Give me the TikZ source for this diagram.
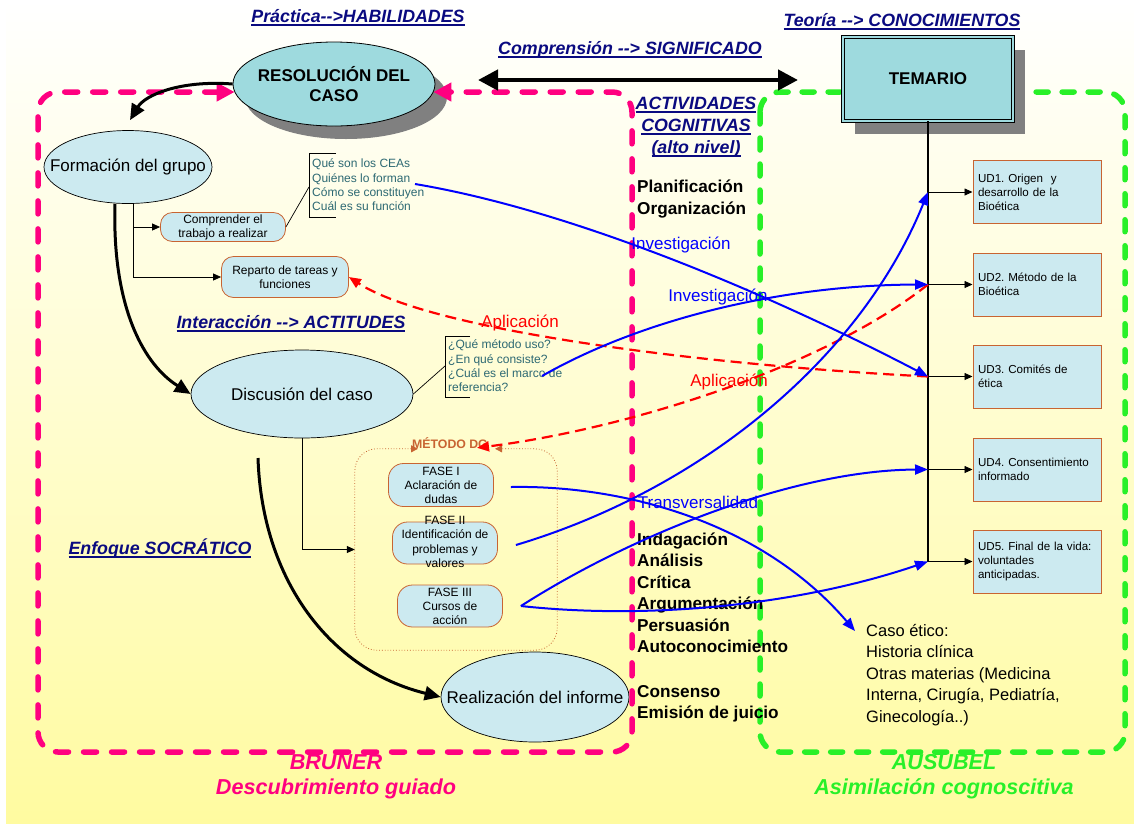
\documentclass[tikz,border=0pt]{standalone}
\usepackage{fontspec}
\setmainfont{Liberation Sans}
\usetikzlibrary{shapes.geometric, arrows.meta, calc, shadows}
\definecolor{mynavy}{RGB}{10,10,128}
\definecolor{mypink}{RGB}{255,0,128}
\definecolor{mygreen}{RGB}{40,240,40}
\definecolor{myteal}{RGB}{158,218,222}
\definecolor{mylight}{RGB}{204,234,240}
\definecolor{myorange}{RGB}{200,100,50}
\definecolor{mynote}{RGB}{45,105,115}
\definecolor{myblue}{RGB}{0,0,255}
\definecolor{myred}{RGB}{255,0,0}
\definecolor{myshadow}{RGB}{128,128,128}
\definecolor{bgyellow}{RGB}{255,251,160}
\newcommand{\fsz}[2]{\fontsize{#1}{#2}\selectfont}
\newsavebox{\tlbox}
\newcommand{\tline}[1]{\sbox{\tlbox}{#1}\rlap{\rule[-3.5pt]{\wd\tlbox}{1.8pt}}\usebox{\tlbox}}
\frenchspacing
\tikzset{
  heading/.style={font=\bfseries\itshape\fsz{17.8}{22}, text=mynavy, align=center, inner sep=1pt},
  bottomlbl/.style={font=\bfseries\itshape\fsz{21.6}{25}, align=center, inner sep=1pt},
  bigoval/.style={ellipse, draw, fill=myteal, line width=0.8pt, align=center,
    font=\bfseries\fsz{17}{20}, inner xsep=-10pt, inner ysep=0pt,
    drop shadow={shadow xshift=12pt, shadow yshift=-13pt, fill=myshadow, opacity=1}},
  oval/.style={ellipse, draw, fill=mylight, line width=0.7pt, font=\fsz{17}{20},
    inner xsep=-25pt, inner ysep=0pt},
  temabox/.style={rectangle, draw, double=myteal, double distance=2.5pt, fill=myteal,
    line width=0.7pt, minimum width=170, minimum height=84, font=\bfseries\fsz{17}{20},
    drop shadow={shadow xshift=12pt, shadow yshift=-13pt, fill=myshadow, opacity=1}},
  capsule/.style={rectangle, rounded corners=12pt, draw=myorange, fill=mylight,
    line width=0.8pt, align=center, font=\fsz{12}{14}, inner sep=0.5pt},
  udbox/.style={rectangle, draw=myorange, fill=mylight, line width=1pt,
    minimum width=128, minimum height=63, text width=118, align=left,
    font=\fsz{11.6}{14}, inner sep=0pt},
  note/.style={anchor=west, align=left, text=mynote, font=\fsz{12}{14.3}, inner sep=0pt},
  colbold/.style={anchor=west, align=left, font=\bfseries\fsz{17.2}{21.5}, inner sep=0pt},
  casetext/.style={anchor=west, align=left, font=\fsz{16.5}{21.5}, inner sep=0pt},
  bluelbl/.style={text=myblue, font=\fsz{17}{20}, inner sep=0pt},
  redlbl/.style={text=myred, font=\fsz{17}{20}, inner sep=0pt},
  pinkframe/.style={draw=mypink, line width=5.5pt, dash pattern=on 13pt off 15pt,
    line cap=round, rounded corners=20pt},
  greenframe/.style={draw=mygreen, line width=5.5pt, dash pattern=on 12pt off 14pt,
    line cap=round, rounded corners=20pt},
  metframe/.style={draw=myorange, line width=0.8pt, dotted, rounded corners=22pt},
  bigarrow/.style={-{Triangle[length=16pt,width=14pt]}, line width=3pt},
  thinarrow/.style={-{Triangle[length=8pt,width=7pt]}, line width=0.8pt},
  bluearrow/.style={-{Triangle[length=13pt,width=10pt]}, draw=myblue, line width=2pt},
  reddash/.style={-{Triangle[length=12pt,width=10pt]}, draw=myred, line width=2.2pt,
    dash pattern=on 11pt off 6pt}
}

\begin{document}
\begin{tikzpicture}[x=1pt, y=-1pt]
  \useasboundingbox (0,0) rectangle (1134,823);
  % Background
  \fill[white] (0,0) rectangle (1134,823);
  \shade[top color=white, bottom color=bgyellow] (6,0) rectangle (1134,823);
  % Ausubel frame
  \draw[greenframe] (760,92) rectangle (1125,752);
  % Headings
  \node[heading] (prac) at (358,18) {\tline{Práctica-{}->HABILIDADES}};
  \node[heading] (teor) at (902,22) {\tline{Teoría -{}-> CONOCIMIENTOS}};
  \node[heading] (signif) at (630,50) {\tline{Comprensión -{}-> SIGNIFICADO}};
  \node[heading] (activ) at (696,127) {\tline{ACTIVIDADES}\\\tline{COGNITIVAS}\\\tline{(alto nivel)}};
  \node[heading] (inter) at (291,324) {\tline{Interacción -{}-> ACTITUDES}};
  \node[heading] (socr) at (160,548) {\tline{Enfoque SOCRÁTICO}};
  % Main nodes
  \node[bigoval, minimum width=202, minimum height=84] (res) at (334,84) {RESOLUCIÓN DEL\\CASO};
  \node[temabox] (tem) at (928,79) {TEMARIO};
  \node[oval, minimum width=168, minimum height=73] (grupo) at (128,167) {Formación del grupo};
  \node[oval, minimum width=222, minimum height=88] (disc) at (302,394) {Discusión del caso};
  \node[oval, minimum width=188, minimum height=90] (inf) at (535,697) {Realización del informe};
  \node[capsule, minimum width=125, minimum height=29] (compr) at (223,227) {Comprender el\\trabajo a realizar};
  \node[capsule, minimum width=127, minimum height=41] (rep) at (285,277) {Reparto de tareas y\\funciones};
  % Notes
  \node[note] (cea) at (312,185) {Qué son los CEAs\\Quiénes lo forman\\Cómo se constituyen\\Cuál es su función};
  \node[note] (quest) at (448,366) {¿Qué método uso?\\¿En qué consiste?\\¿Cuál es el marco de\\referencia?};
  % Metodo DG
  \node[minimum width=202, minimum height=201] (met) at (456,549.5) {};
  \draw[metframe, {Triangle[length=7pt,width=7pt]}-{Triangle[length=7pt,width=7pt]}]
    ($(met.north)+(-38,0)$) -- (met.north west) -- (met.south west) -- (met.south east)
    -- (met.north east) -- ($(met.north)+(39,0)$);
  \node[text=myorange, font=\bfseries\fsz{12.3}{14}, inner sep=0pt] (metlbl) at (450,443) {MÉTODO DG};
  \node[capsule, minimum width=105, minimum height=43, rounded corners=15pt] (f1) at (441,485) {FASE I\\Aclaración de\\dudas};
  \node[capsule, minimum width=105, minimum height=42, rounded corners=15pt] (f2) at (445,543) {};
  \node[font=\fsz{12}{14.5}, align=center, inner sep=0pt] (f2t) at (445,542) {FASE II\\Identificación de\\problemas y\\valores};
  \node[capsule, minimum width=105, minimum height=42, rounded corners=15pt] (f3) at (450,606) {FASE III\\Cursos de\\acción};
  % Temario units
  \node[udbox] (ud1) at (1037,192) {UD1. Origen\ \ y\\desarrollo de la\\Bioética};
  \node[udbox] (ud2) at (1037,284.5) {UD2. Método de la\\Bioética};
  \node[udbox] (ud3) at (1037,376.5) {UD3. Comités de\\ética};
  \node[udbox] (ud4) at (1037,469.5) {UD4. Consentimiento\\informado};
  \node[udbox] (ud5) at (1037,561.5) {UD5. Final de la vida:\\voluntades\\anticipadas.};
  % Cognitive activities
  \node[colbold] (plan) at (637,199) {Planificación\\Organización};
  \node[colbold] (indag) at (637,593) {Indagación\\Análisis\\Crítica\\Argumentación\\Persuasión\\Autoconocimiento};
  \node[colbold] (cons) at (637,704) {Consenso\\Emisión de juicio};
  \node[casetext] (caso) at (866,675) {Caso ético:\\Historia clínica\\Otras materias (Medicina\\Interna, Cirugía, Pediatría,\\Ginecología..)};
  % Bottom labels
  \node[bottomlbl, text=mypink] (bruner) at (336,777) {BRUNER\\Descubrimiento guiado};
  \node[bottomlbl, text=mygreen] (ausubel) at (944,777) {AUSUBEL\\Asimilación cognoscitiva};
  % Bruner frame
  \draw[pinkframe, {Triangle[length=18pt,width=18pt]}-{Triangle[length=18pt,width=18pt]}]
    ($(res.west)+(2,8)$) -- (38,92) -- (38,752) -- (632,752) -- (632,92) -- ($(res.east)+(-2,8)$);
  % Comprension arrow
  \coordinate (cl) at (478,80);
  \coordinate (cr) at (798,80);
  \draw[line width=4.5pt, {Triangle[length=20pt,width=20pt]}-{Triangle[length=20pt,width=20pt]}] (cl) -- (cr);
  % Temario stem
  \coordinate (j1) at (tem.south |- ud1.west);
  \coordinate (j2) at (tem.south |- ud2.west);
  \coordinate (j3) at (tem.south |- ud3.west);
  \coordinate (j4) at (tem.south |- ud4.west);
  \coordinate (j5) at (tem.south |- ud5.west);
  \draw[line width=1.2pt] (tem.south) -- (j5);
  \draw[thinarrow] (j1) -- (ud1.west);
  \draw[thinarrow] (j2) -- (ud2.west);
  \draw[thinarrow] (j3) -- (ud3.west);
  \draw[thinarrow] (j4) -- (ud4.west);
  \draw[thinarrow] (j5) -- (ud5.west);
  % Left flow
  \draw[bigarrow] (res.west) .. controls (180,80) and (145,95) .. ($(grupo.north)+(2,-10)$);
  \draw[bigarrow] ($(grupo.south)+(-13,0)$) .. controls (112,300) and (140,362) .. (disc.west);
  \coordinate (arcs) at (258,458);
  \draw[bigarrow] (arcs) .. controls (262,580) and (330,670) .. (inf.west);
  \coordinate (gs) at ($(grupo.south)+(5,0)$);
  \draw[thinarrow] (gs) |- (compr.west);
  \draw[thinarrow] (gs) |- (rep.west);
  \draw[thinarrow] (disc.south) |- (met.west);
  % Brackets
  \coordinate (ceab) at ($(cea.west)+(-3,0)$);
  \draw[line width=0.8pt] ($(ceab)+(27,-32)$) -- ($(ceab)+(0,-32)$) -- ($(ceab)+(0,32)$) -- ($(ceab)+(27,32)$);
  \draw[line width=0.7pt] (compr.east) -- ($(ceab)+(0,2)$);
  \coordinate (questb) at ($(quest.west)+(-3,0)$);
  \draw[line width=0.8pt] ($(questb)+(25,-30)$) -- ($(questb)+(0,-30)$) -- ($(questb)+(0,31)$) -- ($(questb)+(25,31)$);
  \draw[line width=0.7pt] (disc.east) -- (questb);
  % Applications
  \coordinate (mett) at ($(met.north)+(21,-1)$);
  \draw[reddash] (j3) .. controls (700,365) and (430,330) .. (rep.east);
  \draw[reddash] (j2) .. controls (820,370) and (620,430) .. (mett);
  \node[redlbl] (apl1) at (520,323) {Aplicación};
  \node[redlbl] (apl2) at (729,382) {Aplicación};
  % Research links
  \coordinate (b1s) at (415,184);
  \coordinate (b2s) at (542,376);
  \coordinate (b3s) at ($(f1.east)+(17,2)$);
  \coordinate (b4s) at ($(f2.east)+(18,2)$);
  \coordinate (b5s) at ($(f3.east)+(18,0)$);
  \coordinate (casot) at ($(caso.north west)+(-11,7)$);
  \draw[bluearrow] (b1s) .. controls (600,215) and (820,320) .. (j3);
  \draw[bluearrow] (b2s) .. controls (640,320) and (780,285) .. (j2);
  \draw[bluearrow] (b3s) .. controls (620,485) and (760,520) .. (casot);
  \draw[bluearrow] (b4s) .. controls (700,490) and (860,360) .. (j1);
  \draw[bluearrow] (b5s) .. controls (640,530) and (800,470) .. (j4);
  \draw[bluearrow] (b5s) .. controls (650,620) and (800,605) .. (j5);
  \node[bluelbl] (inv1) at (681,245) {Investigación};
  \node[bluelbl] (inv2) at (718,297) {Investigación};
  \node[bluelbl] (transv) at (698,502) {Transversalidad};
\end{tikzpicture}
\end{document}
